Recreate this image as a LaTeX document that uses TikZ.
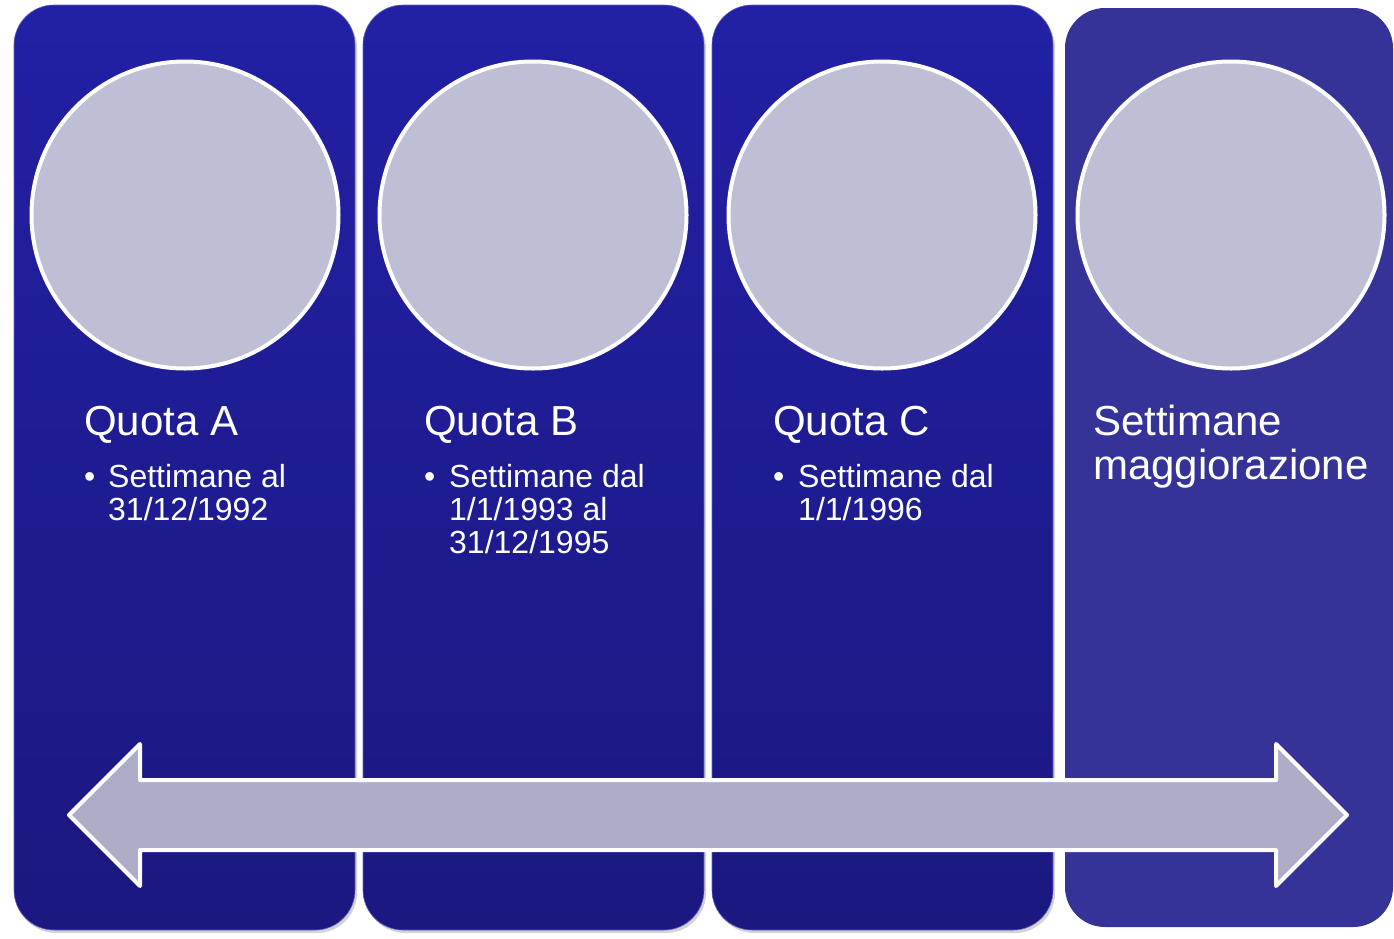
\documentclass[tikz,border=0pt]{standalone}
\usepackage{fontspec}
\setmainfont{Liberation Sans}
\usetikzlibrary{shadows}
\definecolor{ptop}{RGB}{34,32,164}
\definecolor{pbot}{RGB}{27,24,128}
\definecolor{pflat}{RGB}{53,51,152}
\definecolor{circfill}{RGB}{190,190,212}
\definecolor{arrfill}{RGB}{173,173,200}
\tikzset{
  panel/.style={rectangle, rounded corners=40pt, minimum width=341pt, minimum height=925pt,
    inner sep=0pt, top color=ptop, bottom color=pbot, draw=ptop!70!white, line width=0.6pt,
    drop shadow={opacity=0.35, shadow xshift=2pt, shadow yshift=-3pt}},
  flatpanel/.style={rectangle, rounded corners=40pt, minimum width=328pt, minimum height=919pt,
    inner sep=0pt, fill=pflat},
  circ/.style={circle, minimum size=307pt, inner sep=0pt, fill=circfill, draw=white, line width=4pt},
  arr/.style={fill=arrfill, draw=white, line width=4pt, line join=round},
  title/.style={anchor=base west, inner sep=0pt, text=white, font=\fontsize{42}{44}\selectfont},
  item/.style={anchor=base west, inner sep=0pt, text=white, font=\fontsize{32}{33}\selectfont},
}
\begin{document}
\begin{tikzpicture}[x=1pt,y=-1pt]
\useasboundingbox (0,0) rectangle (1394,938);
% panels
\node[panel] (p1) at (184.5,467.5) {};
\node[panel] (p2) at (533.5,467.5) {};
\node[panel] (p3) at (882.5,467.5) {};
\node[flatpanel] (p4) at (1229,467.5) {};
% circles
\node[circ] (c1) at (185,215) {};
\node[circ] (c2) at (533,215) {};
\node[circ] (c3) at (882,215) {};
\node[circ] (c4) at (1231,215) {};
% double arrow
\coordinate (tipL) at (69,815);
\coordinate (tipR) at (1347,815);
\draw[arr] (tipL) -- (140,744) -- (140,780) -- (1276,780) -- (1276,744) -- (tipR)
  -- (1276,886) -- (1276,850) -- (140,850) -- (140,886) -- cycle;
% texts
\node[title] (tA) at (84,435) {Quota A};
\node[item] (bA) at (84,487) {•};
\node[item] (tA1) at (108,487) {Settimane al};
\node[item] (tA2) at (108,520) {31/12/1992};

\node[title] (tB) at (424,435) {Quota B};
\node[item] (bB) at (424,487) {•};
\node[item] (tB1) at (449,487) {Settimane dal};
\node[item] (tB2) at (449,520) {1/1/1993 al};
\node[item] (tB3) at (449,553) {31/12/1995};

\node[title] (tC) at (773,435) {Quota C};
\node[item] (bC) at (773,487) {•};
\node[item] (tC1) at (798,487) {Settimane dal};
\node[item] (tC2) at (798,520) {1/1/1996};

\node[title] (tD1) at (1093,435) {Settimane};
\node[title] (tD2) at (1093,479) {maggiorazione};
\end{tikzpicture}
\end{document}
